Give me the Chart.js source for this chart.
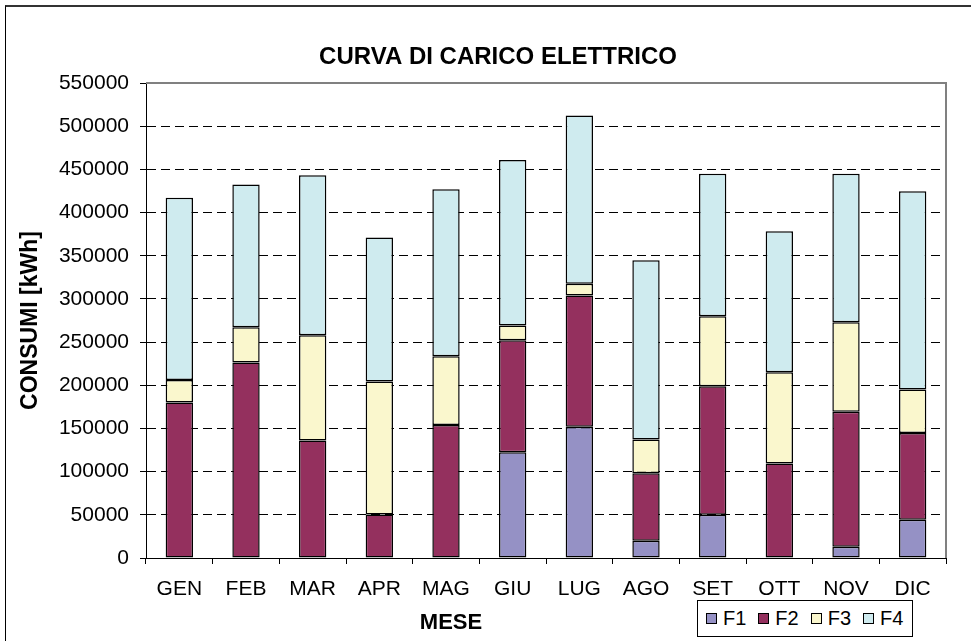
<!DOCTYPE html>
<html>
<head>
<meta charset="utf-8">
<script src="https://cdn.jsdelivr.net/npm/chart.js@4"></script>
<style>
  body { margin: 0; background: #fff; }
  #wrap { position: relative; width: 971px; height: 641px; overflow: hidden; }
  #frame { position: absolute; left: 5px; top: 5px; width: 1000px; height: 1000px;
           border-left: 1px solid #000; border-top: 2px solid #333; box-sizing: border-box; }
  #legend { position: absolute; left: 697px; top: 600px; width: 216px; height: 37px;
            border: 1px solid #000; background: #fff; box-sizing: border-box;
            font-family: "Liberation Sans", Arial, sans-serif; font-size: 20px;
            display: flex; align-items: center; padding-left: 8px; }
  .item { display: flex; align-items: center; margin-right: 12px; }
  .box { width: 9px; height: 9px; border: 1px solid #000; margin-right: 6px; }
</style>
</head>
<body>
<div id="wrap">
  <div id="frame"></div>
  <canvas id="myChart"></canvas>
  <div id="legend"></div>
</div>
<script>
const months = ['GEN', 'FEB', 'MAR', 'APR', 'MAG', 'GIU', 'LUG', 'AGO', 'SET', 'OTT', 'NOV', 'DIC'];
const f1 = [0, 0, 0, 0, 0, 122400, 152100, 20000, 50000, 0, 13100, 44400];
const f2 = [180000, 226500, 136000, 50500, 154000, 129700, 151800, 78000, 148800, 109300, 156100, 100400];
const f3 = [26000, 40700, 122000, 153800, 79600, 17100, 13600, 39100, 81100, 105800, 103800, 50200];
const f4 = [211000, 165300, 185300, 166800, 193500, 191500, 195000, 207700, 165000, 163300, 171900, 229800];
const yMax = 550000;
const yStep = 50000;

const font = '"Liberation Sans", Arial, sans-serif';

// grey frame on top and right of the plot, title and x title placed like the original
const extras = {
    id: 'extras',
    afterDraw(chart) {
        const { ctx, chartArea: a } = chart;
        ctx.save();
        ctx.strokeStyle = '#808080';
        ctx.lineWidth = 2;
        ctx.beginPath();
        ctx.moveTo(a.left, a.top);
        ctx.lineTo(a.right, a.top);
        ctx.lineTo(a.right, a.bottom);
        ctx.stroke();
        ctx.fillStyle = '#000';
        ctx.textAlign = 'center';
        ctx.textBaseline = 'middle';
        ctx.font = 'bold 24px ' + font;
        ctx.fillText('CURVA DI CARICO ELETTRICO', 498, 57);
        ctx.font = 'bold 22px ' + font;
        ctx.fillText('MESE', 451, 623);
        ctx.restore();
    }
};

const ctx = document.getElementById('myChart').getContext('2d');
const chart = new Chart(ctx, {
    type: 'bar',
    data: {
        labels: months,
        datasets: [
            { label: 'F1', data: f1, backgroundColor: '#9591C5' },
            { label: 'F2', data: f2, backgroundColor: '#94305E' },
            { label: 'F3', data: f3, backgroundColor: '#FAF7CD' },
            { label: 'F4', data: f4, backgroundColor: '#CFEBEF' }
        ].map(d => Object.assign(d, {
            borderColor: '#000',
            borderWidth: 1.5,
            borderSkipped: false,
            barPercentage: 0.41,
            categoryPercentage: 1
        }))
    },
    options: {
        responsive: true,
        maintainAspectRatio: false,
        animation: false,
        layout: { padding: { left: 0, right: 25, top: 83, bottom: 0 } },
        plugins: {
            legend: { display: false },
            tooltip: { enabled: false },
            title: { display: false }
        },
        scales: {
            x: {
                stacked: true,
                afterFit: s => { s.height = 83; },
                grid: { drawOnChartArea: false, drawTicks: true, tickLength: 6, tickColor: '#000', offset: true },
                border: { color: '#000', width: 1 },
                ticks: { color: '#000', padding: 13, font: { family: font, size: 21 } }
            },
            y: {
                stacked: true,
                min: 0,
                max: yMax,
                afterFit: s => { s.width = 146; },
                grid: {
                    color: c => (c.tick && c.tick.value === yMax) ? 'rgba(0,0,0,0)' : '#000',
                    tickColor: '#000',
                    tickLength: 6,
                    tickBorderDash: []
                },
                border: { color: '#000', width: 1, dash: [9, 5] },
                ticks: {
                    stepSize: yStep,
                    color: '#000',
                    padding: 11,
                    font: { family: font, size: 21 },
                    callback: v => String(v)
                },
                title: {
                    display: true,
                    text: 'CONSUMI [kWh]',
                    color: '#000',
                    font: { family: font, size: 23, weight: 'bold' },
                    padding: { top: 17, bottom: 0 }
                }
            }
        }
    },
    plugins: [extras]
});

// legend box in the bottom right corner
const legend = document.getElementById('legend');
chart.data.datasets.forEach(d => {
    const item = document.createElement('div');
    item.className = 'item';
    const box = document.createElement('span');
    box.className = 'box';
    box.style.background = d.backgroundColor;
    const txt = document.createElement('span');
    txt.textContent = d.label;
    item.appendChild(box);
    item.appendChild(txt);
    legend.appendChild(item);
});
</script>
</body>
</html>
